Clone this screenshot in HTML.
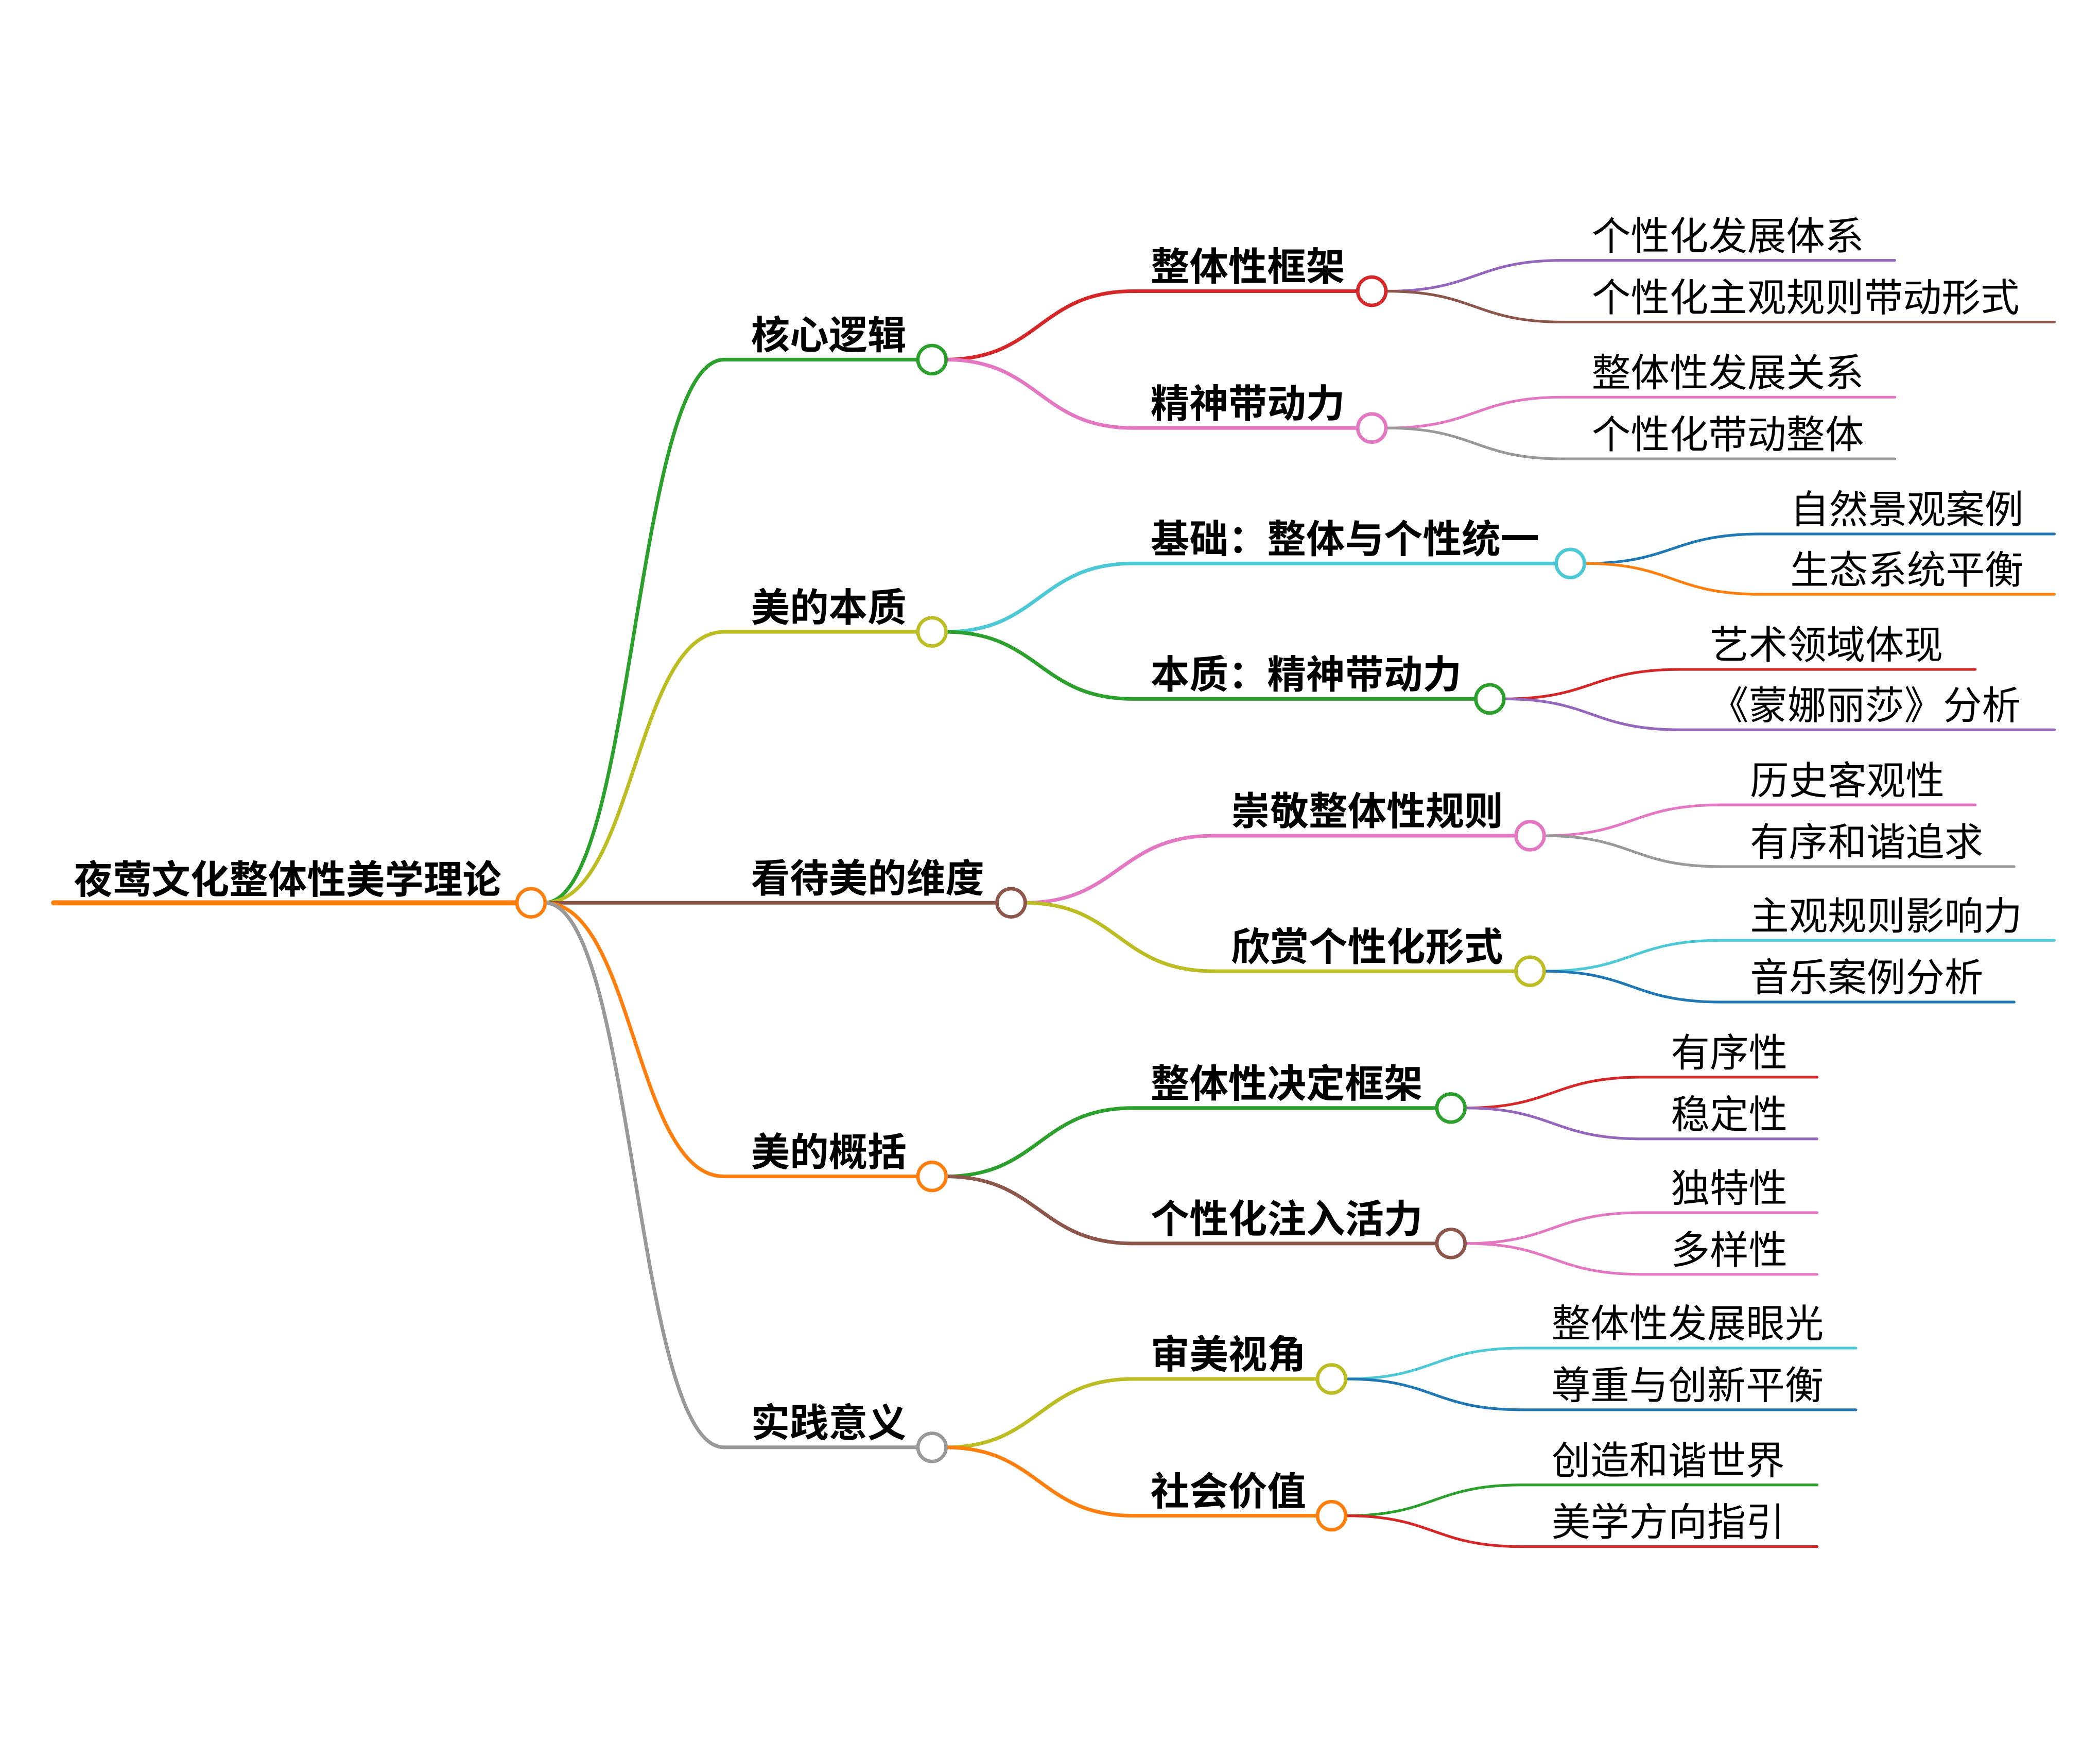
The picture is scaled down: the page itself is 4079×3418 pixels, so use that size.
<!DOCTYPE html>
<html><head><meta charset="utf-8"><style>
html,body{margin:0;padding:0;background:#fff;}
svg{display:block;}
text{font-family:"Liberation Sans","Noto Sans CJK SC",sans-serif;font-size:29px;fill:#000;}
.b{font-weight:bold;}
path{fill:none;stroke-linecap:round;}
.l1{stroke-width:2.7;}
.l3{stroke-width:2;}
circle{fill:#fff;stroke-width:2.6;}
</style></head><body>
<svg width="4079" height="3418" viewBox="0 0 1566 1312" xmlns="http://www.w3.org/2000/svg">
<!-- root -->
<path d="M40,673 H385" stroke="#ff7f0e" stroke-width="3.8"/>
<text class="b" x="55" y="666">夜莺文化整体性美学理论</text>

<!-- level1 -->
<path class="l1" stroke="#2ca02c" d="M406,673 C473,673 473,268 540,268 H684"/>
<path class="l1" stroke="#bcbd22" d="M406,673 C473,673 473,471 540,471 H684"/>
<path class="l1" stroke="#8c564b" d="M406,673 H743"/>
<path class="l1" stroke="#ff7f0e" d="M406,673 C473,673 473,877 540,877 H684"/>
<path class="l1" stroke="#999999" d="M406,673 C473,673 473,1079 540,1079 H684"/>
<text class="b" x="560" y="260">核心逻辑</text>
<text class="b" x="560" y="463">美的本质</text>
<text class="b" x="560" y="665">看待美的维度</text>
<text class="b" x="560" y="869">美的概括</text>
<text class="b" x="560" y="1071">实践意义</text>

<!-- level2 -->
<path class="l1" stroke="#d62728" d="M705,268 C775,268 775,217 845,217 H1012"/>
<path class="l1" stroke="#e377c2" d="M705,268 C775,268 775,319 845,319 H1012"/>
<path class="l1" stroke="#4dc9d6" d="M705,471 C775,471 775,420 845,420 H1160"/>
<path class="l1" stroke="#2ca02c" d="M705,471 C775,471 775,521 845,521 H1100"/>
<path class="l1" stroke="#e377c2" d="M764,673 C834,673 834,623 905,623 H1130"/>
<path class="l1" stroke="#bcbd22" d="M764,673 C834,673 834,724 905,724 H1130"/>
<path class="l1" stroke="#2ca02c" d="M705,877 C775,877 775,826 845,826 H1071"/>
<path class="l1" stroke="#8c564b" d="M705,877 C775,877 775,927 845,927 H1071"/>
<path class="l1" stroke="#bcbd22" d="M705,1079 C775,1079 775,1028 845,1028 H982"/>
<path class="l1" stroke="#ff7f0e" d="M705,1079 C775,1079 775,1130 845,1130 H982"/>
<text class="b" x="858" y="209">整体性框架</text>
<text class="b" x="858" y="311">精神带动力</text>
<text class="b" x="858" y="412">基础：整体与个性统一</text>
<text class="b" x="858" y="513">本质：精神带动力</text>
<text class="b" x="918" y="615">崇敬整体性规则</text>
<text class="b" x="918" y="716">欣赏个性化形式</text>
<text class="b" x="858" y="818">整体性决定框架</text>
<text class="b" x="858" y="919">个性化注入活力</text>
<text class="b" x="858" y="1020">审美视角</text>
<text class="b" x="858" y="1122">社会价值</text>

<!-- level3 -->
<path class="l3" stroke="#9467bd" d="M1034,217 C1100,217 1100,194 1165,194 H1413"/>
<path class="l3" stroke="#8c564b" d="M1034,217 C1100,217 1100,240 1165,240 H1532"/>
<path class="l3" stroke="#e377c2" d="M1034,319 C1100,319 1100,296 1165,296 H1413"/>
<path class="l3" stroke="#999999" d="M1034,319 C1100,319 1100,342 1165,342 H1413"/>
<path class="l3" stroke="#1f77b4" d="M1182,420 C1247,420 1247,398 1313,398 H1532"/>
<path class="l3" stroke="#ff7f0e" d="M1182,420 C1247,420 1247,443 1313,443 H1532"/>
<path class="l3" stroke="#d62728" d="M1122,521 C1187,521 1187,499 1253,499 H1473"/>
<path class="l3" stroke="#9467bd" d="M1122,521 C1187,521 1187,544 1253,544 H1532"/>
<path class="l3" stroke="#e377c2" d="M1152,623 C1217,623 1217,600 1283,600 H1473"/>
<path class="l3" stroke="#999999" d="M1152,623 C1217,623 1217,646 1283,646 H1502"/>
<path class="l3" stroke="#4dc9d6" d="M1152,724 C1217,724 1217,701 1283,701 H1532"/>
<path class="l3" stroke="#1f77b4" d="M1152,724 C1217,724 1217,747 1283,747 H1502"/>
<path class="l3" stroke="#d62728" d="M1093,826 C1158,826 1158,803 1224,803 H1355"/>
<path class="l3" stroke="#9467bd" d="M1093,826 C1158,826 1158,849 1224,849 H1355"/>
<path class="l3" stroke="#e377c2" d="M1093,927 C1158,927 1158,904 1224,904 H1355"/>
<path class="l3" stroke="#e377c2" d="M1093,927 C1158,927 1158,950 1224,950 H1355"/>
<path class="l3" stroke="#4dc9d6" d="M1004,1028 C1069,1028 1069,1005 1135,1005 H1384"/>
<path class="l3" stroke="#1f77b4" d="M1004,1028 C1069,1028 1069,1051 1135,1051 H1384"/>
<path class="l3" stroke="#2ca02c" d="M1004,1130 C1069,1130 1069,1107 1135,1107 H1355"/>
<path class="l3" stroke="#d62728" d="M1004,1130 C1069,1130 1069,1153 1135,1153 H1355"/>

<text x="1187" y="186">个性化发展体系</text>
<text x="1187" y="232">个性化主观规则带动形式</text>
<text x="1187" y="288">整体性发展关系</text>
<text x="1187" y="334">个性化带动整体</text>
<text x="1335" y="390">自然景观案例</text>
<text x="1335" y="435">生态系统平衡</text>
<text x="1275" y="491">艺术领域体现</text>
<text x="1275" y="536">《蒙娜丽莎》分析</text>
<text x="1305" y="592">历史客观性</text>
<text x="1305" y="638">有序和谐追求</text>
<text x="1305" y="693">主观规则影响力</text>
<text x="1305" y="739">音乐案例分析</text>
<text x="1246" y="795">有序性</text>
<text x="1246" y="841">稳定性</text>
<text x="1246" y="896">独特性</text>
<text x="1246" y="942">多样性</text>
<text x="1157" y="997">整体性发展眼光</text>
<text x="1157" y="1043">尊重与创新平衡</text>
<text x="1157" y="1099">创造和谐世界</text>
<text x="1157" y="1145">美学方向指引</text>

<!-- circles -->
<circle cx="396" cy="673" r="10.5" stroke="#ff7f0e"/>
<circle cx="695" cy="268" r="10.5" stroke="#2ca02c"/>
<circle cx="695" cy="471" r="10.5" stroke="#bcbd22"/>
<circle cx="754" cy="673" r="10.5" stroke="#8c564b"/>
<circle cx="695" cy="877" r="10.5" stroke="#ff7f0e"/>
<circle cx="695" cy="1079" r="10.5" stroke="#999999"/>
<circle cx="1023" cy="217" r="10.5" stroke="#d62728"/>
<circle cx="1023" cy="319" r="10.5" stroke="#e377c2"/>
<circle cx="1171" cy="420" r="10.5" stroke="#4dc9d6"/>
<circle cx="1111" cy="521" r="10.5" stroke="#2ca02c"/>
<circle cx="1141" cy="623" r="10.5" stroke="#e377c2"/>
<circle cx="1141" cy="724" r="10.5" stroke="#bcbd22"/>
<circle cx="1082" cy="826" r="10.5" stroke="#2ca02c"/>
<circle cx="1082" cy="927" r="10.5" stroke="#8c564b"/>
<circle cx="993" cy="1028" r="10.5" stroke="#bcbd22"/>
<circle cx="993" cy="1130" r="10.5" stroke="#ff7f0e"/>
</svg>
</body></html>
